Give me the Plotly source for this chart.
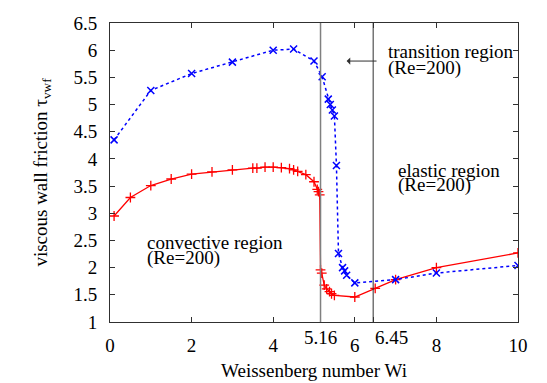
import plotly.graph_objects as go

# convective branch (red, solid)
wi_red = [0.1, 0.5, 1, 1.5, 2, 2.5, 3, 3.5, 3.6, 3.8, 4, 4.2, 4.4, 4.5, 4.6, 4.8, 5.0,
          5.08, 5.11, 5.14, 5.16, 5.19, 5.25, 5.31, 5.38, 5.43, 5.5, 6.0, 6.5, 7.0, 8.0, 10.0]
tau_red = [2.95, 3.29, 3.51, 3.63, 3.72, 3.76, 3.80, 3.83, 3.83, 3.85, 3.85, 3.84, 3.82, 3.80,
           3.77, 3.71, 3.58, 3.44, 3.40, 3.34, 1.96, 1.90, 1.68, 1.61, 1.56, 1.52, 1.49, 1.46,
           1.62, 1.78, 2.00, 2.27]

# elastic branch (blue, dotted)
wi_blue = [0.1, 1, 2, 3, 4, 4.5, 5, 5.2, 5.35, 5.4, 5.45, 5.5, 5.55, 5.6, 5.7, 5.75, 5.8,
           6.0, 7.0, 8.0, 10.0]
tau_blue = [4.35, 5.26, 5.57, 5.78, 6.0, 6.02, 5.8, 5.51, 5.1, 5.0, 4.9, 4.79, 3.88, 2.26,
            2.0, 1.94, 1.86, 1.72, 1.78, 1.90, 2.04]

x_ticks = [0, 2, 4, 5.16, 6, 6.45, 8, 10]
x_ticklabels = ["0", "2", "4", "", "6", "", "8", "10"]
y_ticks = [1, 1.5, 2, 2.5, 3, 3.5, 4, 4.5, 5, 5.5, 6, 6.5]

# region boundaries (Wi)
wi_bounds = [5.16, 6.45]

font = "Liberation Serif, Times New Roman, serif"
fs = 19

fig = go.Figure()
fig.add_trace(go.Scatter(
    x=wi_red, y=tau_red, mode="lines+markers",
    line=dict(color="red", width=1.3),
    marker=dict(symbol="cross-thin", size=7, line=dict(color="red", width=1.3)),
    showlegend=False))
fig.add_trace(go.Scatter(
    x=wi_blue, y=tau_blue, mode="lines+markers",
    line=dict(color="blue", width=1.5, dash="dot"),
    marker=dict(symbol="x-thin", size=7, line=dict(color="blue", width=1.5)),
    showlegend=False))

fig.add_shape(type="line", x0=wi_bounds[0], x1=wi_bounds[0], y0=0, y1=1, xref="x", yref="paper",
              line=dict(color="#808080", width=1.5))
fig.add_shape(type="line", x0=wi_bounds[1], x1=wi_bounds[1], y0=0, y1=1, xref="x", yref="paper",
              line=dict(color="#303030", width=1))

# boundary tick labels, placed by hand like the original
fig.add_annotation(x=wi_bounds[0], y=0, xref="x", yref="paper", text="5.16", showarrow=False,
                   xanchor="center", yanchor="top", yshift=-3,
                   font=dict(size=fs, family=font, color="black"))
fig.add_annotation(x=wi_bounds[1], y=0, xref="x", yref="paper", text="6.45", showarrow=False,
                   xanchor="left", yanchor="top", yshift=-3,
                   font=dict(size=fs, family=font, color="black"))

txt = dict(size=fs, color="black", family=font)
labels = [
    (6.81, 5.98, "transition region"), (6.81, 5.67, "(Re=200)"),
    (7.06, 3.79, "elastic region"), (7.06, 3.52, "(Re=200)"),
    (0.91, 2.47, "convective region"), (0.91, 2.17, "(Re=200)"),
]
for lx, ly, lt in labels:
    fig.add_annotation(x=lx, y=ly, text=lt, showarrow=False, xanchor="left",
                       yanchor="middle", font=txt, xshift=-2)

fig.add_annotation(x=5.8, y=5.8, ax=6.57, ay=5.8, xref="x", yref="y", axref="x", ayref="y",
                   text="", showarrow=True, arrowhead=1, arrowsize=1.2, arrowwidth=1,
                   arrowcolor="#303030")

axis_common = dict(showline=True, linecolor="#303030", linewidth=1, mirror="ticks",
                   ticks="inside", ticklen=5, tickcolor="#303030", showgrid=False,
                   zeroline=False, automargin=False,
                   tickfont=dict(size=fs, family=font, color="black"))

fig.update_xaxes(range=[0, 10], tickvals=x_ticks, ticktext=x_ticklabels, tickangle=0,
                 ticklabelstandoff=6,
                 title=dict(text="Weissenberg number Wi", font=dict(size=fs, family=font),
                            standoff=8),
                 **axis_common)
fig.update_yaxes(range=[1, 6.5], tickvals=y_ticks, ticklabelstandoff=8,
                 title=dict(text="viscous wall friction τ<sub>vwf</sub>",
                            font=dict(size=fs, family=font), standoff=20),
                 **axis_common)

# page body has an 8px margin, so the figure is 8px smaller than the window
fig.update_layout(width=539, height=375, plot_bgcolor="white", paper_bgcolor="white",
                  margin=dict(l=102, r=29, t=15, b=61),
                  font=dict(family=font, color="black"))

fig.write_html("out.html")
